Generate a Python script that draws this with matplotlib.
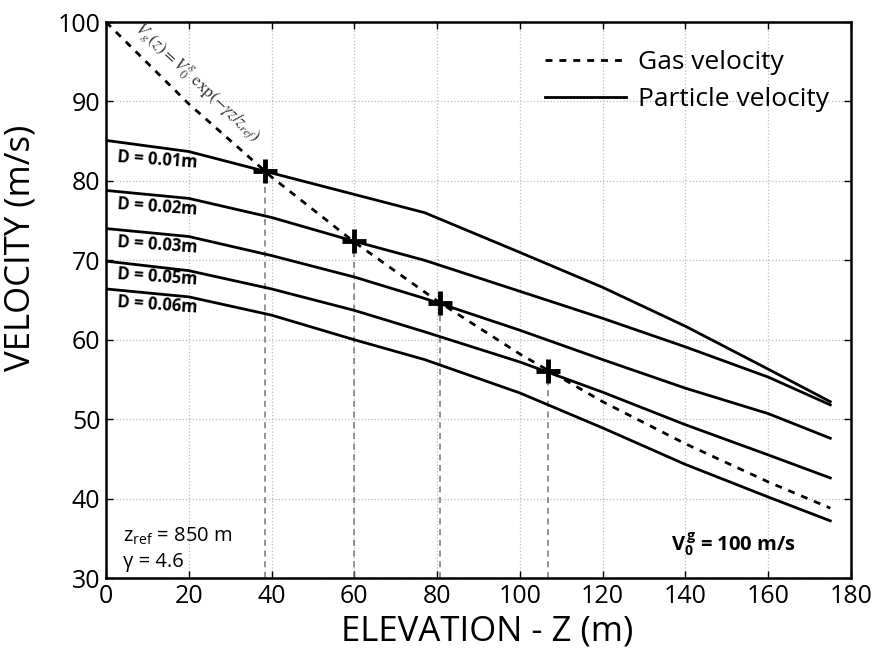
import matplotlib
matplotlib.use("Agg")
import matplotlib.pyplot as plt

plt.rcParams['font.family'] = ['Open Sans', 'DejaVu Sans']
plt.rcParams['mathtext.fontset'] = 'custom'
plt.rcParams['mathtext.rm'] = 'Open Sans'
plt.rcParams['mathtext.it'] = 'Open Sans'
plt.rcParams['mathtext.bf'] = 'Open Sans:bold'

# ---- data ----
gas_z = [0, 20, 40, 60, 80, 100, 120, 140, 160, 175]
gas_v = [100.0, 89.7, 80.5, 72.3, 64.9, 58.2, 52.2, 46.9, 42.1, 38.8]

part_z = [0, 20, 40, 60, 77, 100, 120, 140, 160, 175]
d001_v = [85.1, 83.7, 81.0, 78.3, 76.0, 71.0, 66.6, 61.7, 56.3, 52.2]
d002_v = [78.8, 77.8, 75.4, 72.4, 70.0, 66.1, 62.7, 59.1, 55.3, 51.8]
d003_v = [74.0, 73.0, 70.6, 67.9, 65.2, 61.2, 57.5, 53.9, 50.7, 47.6]
d005_v = [69.9, 68.7, 66.4, 63.7, 61.0, 57.2, 53.4, 49.3, 45.5, 42.6]
d006_v = [66.4, 65.4, 63.1, 60.0, 57.5, 53.3, 48.9, 44.3, 40.2, 37.2]
labels = ["D = 0.01m", "D = 0.02m", "D = 0.03m", "D = 0.05m", "D = 0.06m"]

cross_z = [38.4, 60.0, 80.7, 106.8]
cross_v = [81.2, 72.4, 64.6, 56.1]

xticks = [0, 20, 40, 60, 80, 100, 120, 140, 160, 180]
yticks = [30, 40, 50, 60, 70, 80, 90, 100]

fig = plt.figure(figsize=(8.73, 6.69), dpi=100)
ax = fig.add_axes([0.1214, 0.136, 0.8534, 0.831])

ax.grid(True, linestyle=':', color='#bbbbbb', linewidth=0.9)
ax.set_axisbelow(True)

# vertical dashed lines from crossings
for cz, cv in zip(cross_z, cross_v):
    ax.plot([cz, cz], [30, cv], linestyle=(0, (4, 3)), color='#777777', linewidth=1.1, zorder=2)

series = [d001_v, d002_v, d003_v, d005_v, d006_v]
for i, v in enumerate(series):
    ax.plot(part_z, v, color='black', linewidth=2.0, zorder=3, solid_joinstyle='round',
            label='Particle velocity' if i == 0 else None)

ax.plot(gas_z, gas_v, color='black', linewidth=2.0, linestyle=(0, (2.5, 2.5)), zorder=4,
        label='Gas velocity')

ax.plot(cross_z, cross_v, linestyle='none', marker='+', markersize=17, mew=3.5,
        color='black', zorder=5)

# D labels
label_y = [82.6, 76.7, 71.9, 67.9, 64.4]
for lab, ly in zip(labels, label_y):
    ax.text(2.6, ly, lab, fontsize=12, fontweight='bold',
            rotation=-4, ha='left', va='center', zorder=6)

# formula along gas line
ax.text(22.0, 92.4,
        r'$V_{g}\left(z\right) = V_{0}^{g}\ \mathrm{exp}\left(-\gamma z / z_{ref}\right)$',
        fontsize=12.5, rotation=-43, ha='center', va='center', color='#333333',
        math_fontfamily='stix', rotation_mode='anchor')

# legend
h, l = ax.get_legend_handles_labels()
order = [l.index('Gas velocity'), l.index('Particle velocity')]
ax.legend([h[i] for i in order], [l[i] for i in order], loc='upper right',
          bbox_to_anchor=(0.985, 0.968),
          frameon=False, fontsize=19, handlelength=3.1, handletextpad=0.45,
          borderaxespad=0.0, labelspacing=0.45)

ax.text(4.1, 35.3, r'z$_{\mathrm{ref}}$ = 850 m', fontsize=14.5, ha='left', va='center')
ax.text(4.1, 32.0, 'γ = 4.6', fontsize=14.5, ha='left', va='center')
ax.text(166.8, 34.2, r'$\mathbf{V_0^{\,g}}$ = 100 m/s', fontsize=14.5, fontweight='bold',
        ha='right', va='center')

ax.set_xlim(0, 180)
ax.set_ylim(30, 100)
ax.set_xticks(xticks)
ax.set_yticks(yticks)
ax.tick_params(direction='in', top=True, right=True, labelsize=18, length=5, width=1,
               pad=4)
for s in ax.spines.values():
    s.set_linewidth(1.8)

ax.set_xlabel('ELEVATION - Z (m)', fontsize=25)
ax.set_ylabel('VELOCITY (m/s)', fontsize=25)
ax.xaxis.set_label_coords(0.512, -0.097)
ax.xaxis.label.set_va('center')
ax.yaxis.set_label_coords(-0.115, 0.594)
ax.yaxis.label.set_va('center')

fig.savefig('out.png', dpi=100)
